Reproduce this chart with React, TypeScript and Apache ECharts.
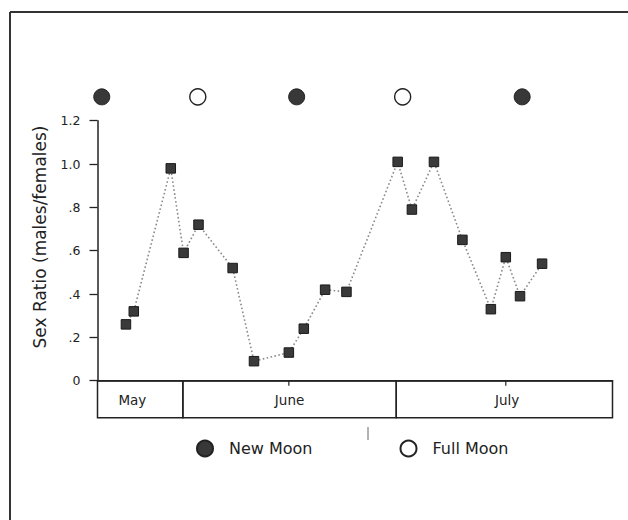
import React, { useEffect, useRef } from "react";
import * as echarts from "echarts";

// ---- data ----
const X_MIN = -12; // days relative to 1 June
const X_MAX = 60.4;
const DAYS = [-8, -6.9, -1.7, 0.1, 2.2, 7, 10, 14.9, 17, 20, 23, 30.2, 32.2, 35.3, 39.3, 43.3, 45.4, 47.4, 50.5];
const RATIOS = [0.26, 0.32, 0.98, 0.59, 0.72, 0.52, 0.09, 0.13, 0.24, 0.42, 0.41, 1.01, 0.79, 1.01, 0.65, 0.33, 0.57, 0.39, 0.54];
const NEW_MOON_DAYS = [-11.4, 16.0, 47.7];
const FULL_MOON_DAYS = [2.1, 30.9];
const MOON_ROW = 1.31;
const MONTHS = ["May", "June", "July"];
const MONTH_STARTS = [-12, 0, 30];
const MONTH_ENDS = [0, 30, 60.4];
const MONTH_LABEL_AT = [-7.1, 15, 45.6];
const MONTH_TICKS: (number | null)[] = [null, 14.9, 45.4];
const Y_LABELS = ["0", ".2", ".4", ".6", ".8", "1.0", "1.2"];
const Y_TITLE = "Sex Ratio (males/females)";
const LEGEND = ["New Moon", "Full Moon"];

const FONT = "DejaVu Sans";
const INK = "#222";

export default function App() {
  const ref = useRef<HTMLDivElement>(null);
  useEffect(() => {
    if (!ref.current) return;
    const chart = echarts.init(ref.current, null, { renderer: "svg" });
    const BOX_H = 37;
    const option: any = {
      animation: false,
      backgroundColor: "#fff",
      grid: { left: 97.5, right: 15.5, top: 120.7, bottom: 139.3, containLabel: false },
      xAxis: {
        type: "value",
        min: X_MIN,
        max: X_MAX,
        axisLine: { show: true, onZero: true, lineStyle: { color: INK, width: 1.5 } },
        axisTick: { show: false },
        axisLabel: { show: false },
        splitLine: { show: false },
      },
      yAxis: {
        type: "value",
        min: 0,
        max: 1.2,
        interval: 0.2,
        axisLine: { show: true, onZero: false, lineStyle: { color: INK, width: 1.5 } },
        axisTick: { show: true, length: 8, lineStyle: { color: INK, width: 1.3 } },
        axisLabel: {
          margin: 17,
          fontFamily: FONT,
          fontSize: 12.5,
          color: INK,
          formatter: (v: number) => Y_LABELS[Math.round(v / 0.2)],
        },
        splitLine: { show: false },
      },
      legend: {
        data: LEGEND,
        left: 191,
        top: 434.5,
        itemWidth: 38,
        itemHeight: 16,
        itemGap: 87,
        textStyle: { fontFamily: FONT, fontSize: 16, color: INK },
        selectedMode: false,
      },
      graphic: [
        { type: "line", shape: { x1: 10, y1: 12, x2: 628, y2: 12 }, style: { stroke: "#333", lineWidth: 2 } },
        { type: "line", shape: { x1: 10, y1: 12, x2: 10, y2: 520 }, style: { stroke: "#333", lineWidth: 2 } },
        {
          type: "text",
          x: 40,
          y: 237,
          rotation: Math.PI / 2,
          style: {
            text: Y_TITLE,
            fontFamily: FONT,
            fontSize: 17,
            fill: INK,
            align: "center",
            verticalAlign: "middle",
            textAlign: "center",
            textVerticalAlign: "middle",
          },
        },
        { type: "line", shape: { x1: 368, y1: 427, x2: 368, y2: 440 }, style: { stroke: "#666", lineWidth: 1 } },
      ],
      series: [
        {
          type: "line",
          data: DAYS.map((d, i) => [d, RATIOS[i]]),
          symbol: "rect",
          symbolSize: 9.5,
          itemStyle: { color: "#3a3a3a", borderColor: "#1a1a1a", borderWidth: 1 },
          lineStyle: { color: "#8a8a8a", width: 1.6, type: [1.6, 2.4] },
          z: 3,
        },
        {
          name: LEGEND[0],
          type: "scatter",
          clip: false,
          data: NEW_MOON_DAYS.map((d) => [d, MOON_ROW]),
          symbol: "circle",
          symbolSize: 16,
          itemStyle: { color: "#383838", borderColor: "#222", borderWidth: 1, opacity: 1 },
        },
        {
          name: LEGEND[1],
          type: "scatter",
          clip: false,
          data: FULL_MOON_DAYS.map((d) => [d, MOON_ROW]),
          symbol: "circle",
          symbolSize: 16,
          itemStyle: { color: "#fff", borderColor: "#222", borderWidth: 1.4, opacity: 1 },
        },
        {
          type: "custom",
          clip: false,
          silent: true,
          encode: { x: [0, 1, 2], y: 3 },
          data: MONTHS.map((_, i) => [MONTH_STARTS[i], MONTH_ENDS[i], MONTH_LABEL_AT[i], 0]),
          renderItem: (params: any, api: any) => {
            const i = params.dataIndex;
            const p0 = api.coord([api.value(0), 0]);
            const p1 = api.coord([api.value(1), 0]);
            const pl = api.coord([api.value(2), 0]);
            const children: any[] = [
              {
                type: "rect",
                shape: { x: p0[0], y: p0[1], width: p1[0] - p0[0], height: BOX_H },
                style: { fill: "transparent", stroke: INK, lineWidth: 1.5 },
              },
              {
                type: "text",
                x: pl[0],
                y: p0[1] + BOX_H / 2 + 0.5,
                style: {
                  text: MONTHS[i],
                  fontFamily: FONT,
                  fontSize: 13.5,
                  fill: INK,
                  align: "center",
                  verticalAlign: "middle",
                  textAlign: "center",
                  textVerticalAlign: "middle",
                },
              },
            ];
            const t = MONTH_TICKS[i];
            if (t !== null) {
              const pt = api.coord([t, 0]);
              children.push({
                type: "line",
                shape: { x1: pt[0], y1: pt[1], x2: pt[0], y2: pt[1] + 5 },
                style: { stroke: INK, lineWidth: 1.2 },
              });
            }
            return { type: "group", children };
          },
        },
      ],
    };
    chart.setOption(option);
    return () => chart.dispose();
  }, []);
  return (
    <div
      ref={ref}
      style={{ position: "fixed", left: 0, top: 0, width: 628, height: 520, background: "#fff" }}
    />
  );
}
